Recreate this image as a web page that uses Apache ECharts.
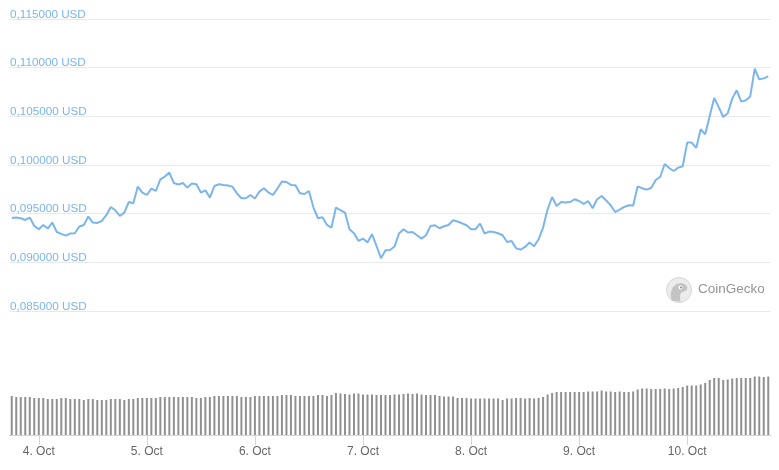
<!DOCTYPE html>
<html>
<head>
<meta charset="utf-8">
<script src="https://cdn.jsdelivr.net/npm/echarts@6/dist/echarts.min.js"></script>
<style>
html,body{margin:0;padding:0;background:#fff;}
#chart{width:779px;height:470px;}
</style>
</head>
<body>
<div id="chart"></div>
<script>
// Hourly prices (USD), 3 Oct 18:00 → 10 Oct 18:00
const prices = [
0.09456,0.09460,0.09453,0.09435,0.09460,0.09374,0.09340,0.09384,0.09347,0.09409,
0.09312,0.09292,0.09275,0.09296,0.09299,0.09368,0.09384,0.09470,0.09409,0.09405,
0.09425,0.09484,0.09569,0.09535,0.09476,0.09511,0.09620,0.09607,0.09778,0.09717,
0.09692,0.09758,0.09733,0.09853,0.09881,0.09922,0.09815,0.09799,0.09815,0.09768,
0.09809,0.09802,0.09717,0.09740,0.09665,0.09784,0.09802,0.09795,0.09789,0.09778,
0.09709,0.09658,0.09658,0.09692,0.09655,0.09727,0.09761,0.09717,0.09692,0.09758,
0.09830,0.09825,0.09795,0.09792,0.09709,0.09702,0.09733,0.09563,0.09453,0.09463,
0.09384,0.09357,0.09563,0.09535,0.09511,0.09340,0.09299,0.09220,0.09244,0.09203,
0.09289,0.09168,0.09042,0.09124,0.09127,0.09162,0.09296,0.09340,0.09306,0.09312,
0.09278,0.09244,0.09278,0.09374,0.09381,0.09350,0.09371,0.09384,0.09432,0.09419,
0.09401,0.09381,0.09340,0.09340,0.09398,0.09296,0.09316,0.09312,0.09299,0.09278,
0.09209,0.09220,0.09145,0.09131,0.09158,0.09203,0.09165,0.09237,0.09357,0.09545,
0.09671,0.09579,0.09620,0.09614,0.09620,0.09648,0.09630,0.09600,0.09630,0.09555,
0.09648,0.09682,0.09635,0.09586,0.09517,0.09542,0.09569,0.09586,0.09583,0.09781,
0.09761,0.09747,0.09764,0.09846,0.09877,0.10010,0.09969,0.09938,0.09973,0.09987,
0.10230,0.10230,0.10175,0.10367,0.10315,0.10503,0.10688,0.10595,0.10493,0.10531,
0.10682,0.10767,0.10651,0.10664,0.10705,0.10990,0.10880,0.10890,0.10911
];
// Hourly volume (relative units)
const volumes = [
39,38,38,38,38,37,37,37,36,36,
36,37,37,36,36,36,35,36,36,35,
35,35,36,36,36,35,36,36,37,37,
37,37,37,38,38,38,38,38,38,38,
38,37,37,38,38,39,39,39,39,39,
39,38,38,38,39,39,39,39,39,39,
40,40,40,39,39,39,39,39,40,40,
39,40,42,41.5,41,40.5,41.5,41.5,40.5,40.5,
40.5,40,40,40,40,40.5,40.5,41,41.5,41,
41.5,40.5,40,40,40,39,38.5,38.5,38.5,37,
37,37,36.5,36.5,36.5,36.5,36.5,36.5,36.5,35,
36.5,36.5,37,37,36.5,37,36.5,37,38,40.5,
42,43,43,43,43,43,43,43,43.5,43.5,
43.5,44.5,43.5,43.5,43,43.5,43,43,43.5,45.5,
46.5,46.5,46,46,46,46.5,46,46.5,47,48,
49.5,49.5,49.5,50.5,52,55,57,57,55,55.5,
56.5,57,57,57,57,58.5,58.5,58,58.5
];
const priceTicks = {min:0.085, max:0.115, interval:0.005};
const startDay = 3, startHour = 18;
const categories = [];
for (let i = 0; i < prices.length; i++) {
  const h = startHour + i;
  const d = startDay + Math.floor(h / 24);
  const hh = h % 24;
  categories.push(d + '. Oct ' + (hh < 10 ? '0' + hh : hh) + ':00');
}
const isMidnight = (idx) => !!categories[idx] && categories[idx].endsWith(' 00:00');

const FONT = 'Liberation Sans, Arial, Helvetica, sans-serif';
const chart = echarts.init(document.getElementById('chart'), null, {renderer:'canvas'});
chart.setOption({
  animation:false,
  backgroundColor:'#ffffff',
  grid:[
    {left:9.5, right:8.5, top:19, height:292},
    {left:9.5, right:8.5, top:370, height:65}
  ],
  xAxis:[
    {type:'category', gridIndex:0, data:categories, boundaryGap:true,
     axisLine:{show:false}, axisTick:{show:false}, axisLabel:{show:false}, splitLine:{show:false}},
    {type:'category', gridIndex:1, data:categories, boundaryGap:true,
     axisLine:{show:true, lineStyle:{color:'#ccd6eb', width:1}},
     axisTick:{show:true, alignWithLabel:true, interval:(i)=>isMidnight(i), length:10, lineStyle:{color:'#ccd6eb'}},
     axisLabel:{interval:(i)=>isMidnight(i), formatter:(v)=>v.split(' ').slice(0,2).join(' '),
       color:'#666666', fontSize:12, fontFamily:FONT, margin:10.5},
     splitLine:{show:false}}
  ],
  yAxis:[
    {type:'value', gridIndex:0, min:priceTicks.min, max:priceTicks.max, interval:priceTicks.interval,
     axisLine:{show:false}, axisTick:{show:false},
     splitLine:{show:true, lineStyle:{color:'#e9e9e9', width:1}},
     axisLabel:{inside:true, margin:0.5, verticalAlign:'bottom', align:'left', color:'#7cb5ec',
       fontSize:11.7, lineHeight:9, fontFamily:FONT,
       formatter:(v)=>v.toFixed(6).replace('.', ',') + ' USD'}},
    {type:'value', gridIndex:1, min:0, max:65, show:false, splitLine:{show:false}}
  ],
  series:[
    {type:'line', xAxisIndex:0, yAxisIndex:0, data:prices, showSymbol:false, symbol:'none',
     lineStyle:{color:'#7cb5ec', width:2}, itemStyle:{color:'#7cb5ec'}, z:3},
    {type:'bar', xAxisIndex:1, yAxisIndex:1, data:volumes, barWidth:2,
     itemStyle:{color:'#909090'}}
  ],
  graphic:[
    {type:'group', left:666, top:277, children:[
      {type:'circle', shape:{cx:13.5, cy:13.5, r:12.5}, style:{fill:'#ececec', stroke:'#d6d6d6', lineWidth:1}},
      {type:'polygon', shape:{points:[[6,24],[5,17],[7,11],[11,7.5],[16,6.5],[20,8],[22,11],[21,14],[17,15.5],[15,17],[14.5,21],[15,25]]},
       style:{fill:'#c4c4c4'}},
      {type:'circle', shape:{cx:15, cy:11, r:2}, style:{fill:'#ffffff'}},
      {type:'circle', shape:{cx:15.5, cy:11, r:1}, style:{fill:'#8a8a8a'}}
    ]},
    {type:'text', left:698, top:282, style:{text:'CoinGecko', fill:'#959595', font:'13.5px ' + FONT}}
  ]
});
</script>
</body>
</html>
